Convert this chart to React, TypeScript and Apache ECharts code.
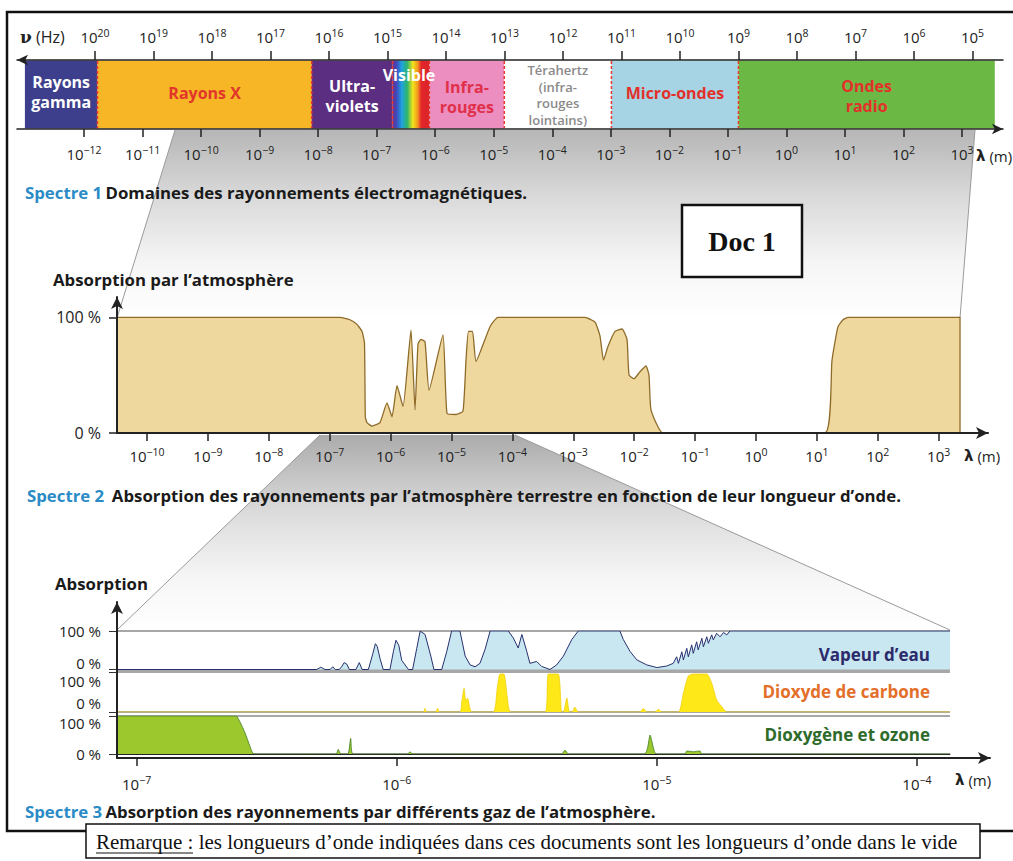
import React, { useEffect, useRef } from 'react';
import * as echarts from 'echarts';

// ---------- Spectre 1 : domaines (log10 of wavelength in m) ----------
const bandNames = ['Rayons\ngamma', 'Rayons X', 'Ultra-\nviolets', 'Visible', 'Infra-\nrouges', 'Térahertz\n(infra-\nrouges\nlointains)', 'Micro-ondes', 'Ondes\nradio'];
const bandStartLog = [-13.01, -11.77, -8.11, -6.73, -6.10, -4.82, -2.99, -0.82];
const bandEndLog = [-11.77, -8.11, -6.73, -6.10, -4.82, -2.99, -0.82, 3.56];
const lambdaTicks1 = [-12, -11, -10, -9, -8, -7, -6, -5, -4, -3, -2, -1, 0, 1, 2, 3];
const freqTicks = [20, 19, 18, 17, 16, 15, 14, 13, 12, 11, 10, 9, 8, 7, 6, 5];

// ---------- Spectre 2 : absorption par l'atmosphère ----------
const s2LogLambda = [-10.49, -6.83, -6.667, -6.552, -6.47, -6.429, -6.415, -6.388, -6.305, -6.174, -6.059, -5.977, -5.895, -5.796, -5.665, -5.599, -5.55, -5.501, -5.435, -5.369, -5.14, -5.074, -4.926, -4.811, -4.762, -4.721, -4.655, -4.598, -4.368, -4.236, -2.808, -2.644, -2.562, -2.504, -2.43, -2.315, -2.2, -2.118, -2.085, -2.003, -1.905, -1.806, -1.757, -1.724, -1.527, 1.133, 1.248, 1.346, 1.429, 1.511, 3.35, 3.35];
const s2Absorption = [100, 100, 98, 94, 88, 78, 14, 9, 6, 9, 26, 14, 41, 23, 89, 20, 77, 81, 79, 37, 85, 17, 16, 19, 63, 88, 88, 62, 92, 100, 100, 96, 84, 63, 75, 88, 90, 81, 50, 47, 53, 58, 50, 20, 0, 0, 63, 92, 98, 100, 100, 0];
const s2Ticks = [-10, -9, -8, -7, -6, -5, -4, -3, -2, -1, 0, 1, 2, 3];

// ---------- Spectre 3 : gaz ----------
const wvLogLambda = [-7.075, -6.308, -6.292, -6.276, -6.256, -6.246, -6.236, -6.221, -6.212, -6.202, -6.192, -6.182, -6.157, -6.144, -6.133, -6.109, -6.092, -6.082, -6.075, -6.064, -6.052, -6.026, -6.013, -6.003, -5.992, -5.981, -5.955, -5.939, -5.923, -5.91, -5.891, -5.869, -5.857, -5.827, -5.808, -5.789, -5.757, -5.737, -5.718, -5.699, -5.68, -5.661, -5.641, -5.571, -5.552, -5.533, -5.519, -5.5, -5.488, -5.462, -5.443, -5.411, -5.385, -5.359, -5.327, -5.302, -5.142, -5.129, -5.103, -5.077, -5.039, -5.0, -4.962, -4.937, -4.924, -4.917, -4.904, -4.898, -4.885, -4.879, -4.866, -4.86, -4.847, -4.841, -4.827, -4.821, -4.808, -4.802, -4.789, -4.783, -4.77, -4.757, -4.744, -4.731, -4.719, -3.873];
const wvAbsorption = [0, 0, 6, 0, 0, 7, 0, 0, 7, 18, 14, 0, 0, 18, 0, 0, 41, 67, 60, 28, 0, 0, 46, 76, 63, 24, 0, 0, 55, 100, 91, 35, 0, 0, 46, 100, 100, 35, 12, 7, 16, 51, 100, 100, 82, 56, 91, 47, 16, 21, 8, 0, 12, 35, 78, 100, 100, 78, 47, 25, 12, 5, 9, 16, 33, 16, 46, 25, 55, 33, 64, 42, 72, 51, 81, 59, 85, 68, 90, 77, 94, 85, 96, 90, 100, 100];

const co2LogLambda = [-7.075, -5.897, -5.891, -5.885, -5.85, -5.843, -5.836, -5.757, -5.75, -5.741, -5.735, -5.727, -5.72, -5.712, -5.629, -5.613, -5.603, -5.588, -5.575, -5.562, -5.43, -5.417, -5.379, -5.366, -5.359, -5.346, -5.336, -5.326, -5.315, -5.302, -5.065, -5.052, -5.039, -5.007, -4.994, -4.981, -4.917, -4.898, -4.879, -4.86, -4.808, -4.789, -4.77, -4.75, -4.731, -3.873];
const co2Absorption = [0, 0, 9, 0, 0, 9, 0, 0, 25, 59, 30, 34, 13, 0, 0, 63, 95, 95, 38, 0, 0, 95, 95, 0, 0, 35, 0, 0, 12, 0, 0, 9, 0, 0, 7, 0, 0, 47, 90, 95, 95, 72, 30, 13, 0, 0];

const o2LogLambda = [-7.075, -6.618, -6.603, -6.583, -6.564, -6.549, -6.233, -6.225, -6.215, -6.188, -6.177, -6.168, -5.958, -5.949, -5.94, -5.366, -5.353, -5.34, -5.047, -5.036, -5.026, -5.013, -5.003, -4.892, -4.885, -4.86, -4.834, -4.828, -3.873];
const o2Absorption = [100, 100, 85, 55, 20, 0, 0, 12, 0, 0, 41, 0, 0, 6, 0, 0, 10, 0, 0, 15, 50, 15, 0, 0, 8, 6, 8, 0, 0];
const s3Ticks = [-7, -6, -5, -4];

// ---------- styles ----------
const FONT = '"Open Sans", Lato, sans-serif';
const SERIF = '"Liberation Serif", "DejaVu Serif", serif';
const bandFills = ['#3d3f8c', '#f6b626', '#5b2e81', 'VIS', '#ec8fc0', '#ffffff', '#a6d4e4', '#6cb845'];
const bandText = ['#ffffff', '#e2352b', '#ffffff', '#ffffff', '#e0304a', '#8a8a8a', '#e2302a', '#e2302a'];
const bandTextY = [92, 93, 96, 75, 97, 95, 93, 96];

const sup = (v: number) => (v < 0 ? '−' + -v : String(v));
const powFmt = (v: number) => `{b|10}{s|${sup(Math.round(v))}}`;
const powRich = {
  b: { fontSize: 15, fontFamily: FONT, color: '#222' },
  s: { fontSize: 10.5, fontFamily: FONT, color: '#222', padding: [0, 0, 9, 0] },
};
const pts = (xs: number[], ys: number[]) => xs.map((x, i) => [x, ys[i]]);

export default function App() {
  const ref = useRef<HTMLDivElement>(null);
  useEffect(() => {
    if (!ref.current) return;
    const chart = echarts.init(ref.current, undefined, { renderer: 'svg' });
    const visGrad = new echarts.graphic.LinearGradient(0, 0, 1, 0, [
      { offset: 0, color: '#6b2c8f' },
      { offset: 0.12, color: '#3b4fc0' },
      { offset: 0.25, color: '#1ea3e0' },
      { offset: 0.4, color: '#2db56e' },
      { offset: 0.55, color: '#f1e41b' },
      { offset: 0.68, color: '#f39a1e' },
      { offset: 0.78, color: '#e3262a' },
      { offset: 1, color: '#d9232a' },
    ]);
    const axisTickStyle = { color: '#222', width: 1.5 };
    const hiddenY = (gi: number) => ({ gridIndex: gi, type: 'value', min: 0, max: 1, show: false });
    const panelY = (gi: number, topShift: number, botShift: number) => ({
      gridIndex: gi, type: 'value', min: 0, max: 100, interval: 100,
      axisLine: { show: false },
      axisTick: { show: true, length: 8, lineStyle: { color: '#333', width: 1 } },
      splitLine: { show: true, lineStyle: { color: '#8a8a8a', width: 1.5 } },
      axisLabel: {
        margin: 16,
        formatter: (v: number) => (v === 0 ? `{z|0 %}` : `{h|100 %}`),
        rich: {
          z: { fontSize: 15, lineHeight: 15, fontFamily: FONT, color: '#222', padding: [0, 0, botShift, 0] },
          h: { fontSize: 15, lineHeight: 15, fontFamily: FONT, color: '#222', padding: [topShift, 0, 0, 0] },
        },
      },
    });
    const panelX = (gi: number, showLine: boolean) => ({
      gridIndex: gi, type: 'value', min: -7.0754, max: -3.873,
      axisLine: { show: showLine, onZero: false, lineStyle: { color: '#222', width: 1 } },
      axisTick: { show: false }, axisLabel: { show: false }, splitLine: { show: false },
    });
    const lam = (x: number, y: number) => ({ type: 'text', z: 20, x, y, style: { text: '{v|λ} (m)', rich: { v: { fontWeight: 'bold', fontSize: 15, fontFamily: 'DejaVu Sans' } }, fontSize: 15, fontFamily: FONT, fill: '#222', verticalAlign: 'middle' } });
    const CAP = 16.8;
    const caption = (x: number, y: number, a: string, b: string) => ({
      type: 'text', z: 20, x, y,
      style: { text: `{a|${a}} {b|${b}}`, rich: { a: { fill: '#2a8bc6', fontSize: CAP, fontFamily: FONT, fontWeight: 'bold' }, b: { fill: '#1a1a1a', fontSize: CAP, fontFamily: FONT, fontWeight: 'bold' } }, verticalAlign: 'middle' },
    });

    const graphic: any[] = [
      // zoom shading between spectra
      {
        type: 'polygon', z: -10, silent: true,
        shape: { points: [[175, 130], [975, 130], [960, 318], [117, 318]] },
        style: { fill: new echarts.graphic.LinearGradient(0, 0, 0, 1, [
          { offset: 0, color: '#b6b6b6' }, { offset: 0.35, color: '#d9d9d9' }, { offset: 0.7, color: '#f5f5f5' }, { offset: 1, color: '#ffffff' }]) },
      },
      { type: 'line', z: -9, shape: { x1: 175, y1: 130, x2: 117, y2: 318 }, style: { stroke: '#9a9a9a', lineWidth: 1 } },
      { type: 'line', z: -9, shape: { x1: 975, y1: 130, x2: 960, y2: 318 }, style: { stroke: '#9a9a9a', lineWidth: 1 } },
      {
        type: 'polygon', z: -10, silent: true,
        shape: { points: [[320, 435], [515, 435], [950, 630], [117, 630]] },
        style: { fill: new echarts.graphic.LinearGradient(0, 0, 0, 1, [
          { offset: 0, color: '#ababab' }, { offset: 0.4, color: '#dcdcdc' }, { offset: 0.75, color: '#f7f7f7' }, { offset: 1, color: '#ffffff' }]) },
      },
      { type: 'line', z: -9, shape: { x1: 320, y1: 435, x2: 117, y2: 630 }, style: { stroke: '#9a9a9a', lineWidth: 1 } },
      { type: 'line', z: -9, shape: { x1: 515, y1: 435, x2: 950, y2: 630 }, style: { stroke: '#9a9a9a', lineWidth: 1 } },
      // outer frame
      { type: 'rect', z: 20, shape: { x: 7, y: 12, width: 1020, height: 819 }, style: { fill: 'none', stroke: '#111', lineWidth: 2.5 } },
      // axis names
      { type: 'text', z: 20, x: 20, y: 37, style: { text: '{v|ν} (Hz)', rich: { v: { fontWeight: 'bold', fontFamily: 'DejaVu Serif', fontSize: 17 } }, fontSize: 16, fontFamily: FONT, fill: '#222', verticalAlign: 'middle' } },
      lam(976, 156),
      lam(964, 456),
      lam(955, 780),
      // captions
      caption(25, 192, 'Spectre 1', 'Domaines des rayonnements électromagnétiques.'),
      { type: 'text', z: 20, x: 53, y: 279, style: { text: 'Absorption par l’atmosphère', fill: '#1a1a1a', fontSize: CAP, fontFamily: FONT, fontWeight: 'bold', verticalAlign: 'middle' } },
      caption(27, 495, 'Spectre 2', ' Absorption des rayonnements par l’atmosphère terrestre en fonction de leur longueur d’onde.'),
      { type: 'text', z: 20, x: 55, y: 583, style: { text: 'Absorption', fill: '#1a1a1a', fontSize: CAP, fontFamily: FONT, fontWeight: 'bold', verticalAlign: 'middle' } },
      caption(25, 811, 'Spectre 3', 'Absorption des rayonnements par différents gaz de l’atmosphère.'),
      // gas labels
      { type: 'text', z: 20, x: 930, y: 654, style: { text: 'Vapeur d’eau', fill: '#2c2a6a', fontSize: 17, fontFamily: FONT, fontWeight: 'bold', align: 'right', verticalAlign: 'middle' } },
      { type: 'text', z: 20, x: 930, y: 691, style: { text: 'Dioxyde de carbone', fill: '#e36f2a', fontSize: 17, fontFamily: FONT, fontWeight: 'bold', align: 'right', verticalAlign: 'middle' } },
      { type: 'text', z: 20, x: 930, y: 734, style: { text: 'Dioxygène et ozone', fill: '#2e6b2b', fontSize: 17, fontFamily: FONT, fontWeight: 'bold', align: 'right', verticalAlign: 'middle' } },
      // Doc 1 box
      { type: 'rect', z: 20, shape: { x: 682, y: 205, width: 120, height: 72 }, style: { fill: '#fff', stroke: '#111', lineWidth: 2.5 } },
      { type: 'text', z: 21, x: 742, y: 241, style: { text: 'Doc 1', fill: '#111', fontSize: 28, fontFamily: SERIF, fontWeight: 'bold', align: 'center', verticalAlign: 'middle' } },
      // Remarque box
      { type: 'rect', z: 30, shape: { x: 86, y: 824, width: 894, height: 34 }, style: { fill: '#fff', stroke: '#111', lineWidth: 1.5 } },
      { type: 'text', z: 31, x: 96, y: 842, style: { text: 'Remarque : les longueurs d’onde indiquées dans ces documents sont les longueurs d’onde dans le vide', fill: '#111', fontSize: 21, fontFamily: SERIF, verticalAlign: 'middle' } },
      { type: 'line', z: 31, shape: { x1: 96, y1: 853, x2: 193, y2: 853 }, style: { stroke: '#111', lineWidth: 1 } },
    ];

    const option: any = {
      animation: false,
      backgroundColor: '#ffffff',
      grid: [
        { left: 17, top: 60, width: 986, height: 69 },
        { left: 117, top: 297, width: 871, height: 136 },
        { left: 117, top: 631, width: 833, height: 38.5 },
        { left: 117, top: 672, width: 833, height: 40 },
        { left: 117, top: 716, width: 833, height: 38 },
        { left: 117, top: 602, width: 873, height: 156 },
      ],
      xAxis: [
        {
          gridIndex: 0, type: 'value', position: 'bottom', min: -13.145, max: 3.7, z: 10,
          axisLine: { onZero: false, symbol: ['none', 'arrow'], symbolSize: [8, 11], lineStyle: { color: '#222', width: 1.5 } },
          axisTick: { customValues: lambdaTicks1, length: 8, lineStyle: axisTickStyle },
          axisLabel: { customValues: lambdaTicks1, margin: 15, formatter: powFmt, rich: powRich },
          splitLine: { show: false },
        },
        {
          gridIndex: 0, type: 'value', position: 'top', inverse: true, min: 4.479, max: 21.333, z: 10,
          axisLine: { onZero: false, symbol: ['arrow', 'none'], symbolSize: [8, 11], lineStyle: { color: '#222', width: 1.5 } },
          axisTick: { customValues: freqTicks, length: 9, lineStyle: axisTickStyle },
          axisLabel: { customValues: freqTicks, margin: 13, formatter: powFmt, rich: powRich },
          splitLine: { show: false },
        },
        {
          gridIndex: 1, type: 'value', min: -10.4926, max: 3.8095, z: 10,
          axisLine: { onZero: false, symbol: ['none', 'arrow'], symbolSize: [9, 12], lineStyle: { color: '#222', width: 2 } },
          axisTick: { customValues: s2Ticks, length: 8, lineStyle: axisTickStyle },
          axisLabel: { customValues: s2Ticks, margin: 13, formatter: powFmt, rich: powRich },
          splitLine: { show: false },
        },
        panelX(2, false),
        panelX(3, false),
        panelX(4, true),
        {
          gridIndex: 5, type: 'value', min: -7.0754, max: -3.719, z: 10,
          axisLine: { onZero: false, symbol: ['none', 'arrow'], symbolSize: [9, 12], lineStyle: { color: '#222', width: 2 } },
          axisTick: { customValues: s3Ticks, length: 8, lineStyle: axisTickStyle },
          axisLabel: { customValues: s3Ticks, margin: 16, formatter: powFmt, rich: powRich },
          splitLine: { show: false },
        },
      ],
      yAxis: [
        hiddenY(0),
        {
          gridIndex: 1, type: 'value', min: 0, max: 117.7, z: 10,
          axisLine: { show: true, onZero: false, symbol: ['none', 'arrow'], symbolSize: [9, 12], lineStyle: { color: '#222', width: 2 } },
          axisTick: { show: true, customValues: [0, 100], length: 8, lineStyle: axisTickStyle },
          axisLabel: { customValues: [0, 100], margin: 16, fontSize: 16, fontFamily: FONT, color: '#222', formatter: (v: number) => `${v} %` },
          splitLine: { show: false },
        },
        panelY(2, 0, 13),
        panelY(3, 18, 18),
        panelY(4, 14, 0),
        {
          gridIndex: 5, type: 'value', min: 0, max: 1, z: 10,
          axisLine: { show: true, onZero: false, symbol: ['none', 'arrow'], symbolSize: [9, 12], lineStyle: { color: '#222', width: 2 } },
          axisTick: { show: false }, axisLabel: { show: false }, splitLine: { show: false },
        },
      ],
      series: [
        {
          type: 'custom', xAxisIndex: 0, yAxisIndex: 0, z: 2,
          data: bandStartLog.map((s, i) => [s, bandEndLog[i], i]),
          renderItem: (params: any, api: any) => {
            const i = api.value(2);
            const x0 = api.coord([api.value(0), 0])[0];
            const x1 = api.coord([api.value(1), 0])[0];
            const cs = params.coordSys;
            const children: any[] = [
              { type: 'rect', z2: 0, shape: { x: x0, y: cs.y + 0.5, width: x1 - x0, height: cs.height - 1 }, style: { fill: bandFills[i] === 'VIS' ? visGrad : bandFills[i] } },
            ];
            if (i > 0) children.push({ type: 'line', z2: 5, shape: { x1: x0, y1: cs.y + 1, x2: x0, y2: cs.y + cs.height - 1 }, style: { stroke: '#e8392c', lineWidth: 1.5, lineDash: [3, 2] } });
            const thz = i === 5;
            children.push({
              type: 'text', z2: 10,
              style: { text: bandNames[i], x: (x0 + x1) / 2 + (i === 3 ? -2 : 0), y: bandTextY[i], align: 'center', verticalAlign: 'middle', fill: bandText[i], fontSize: thz ? 13 : 16, fontWeight: thz ? 600 : 'bold', fontFamily: FONT, lineHeight: thz ? 16.5 : 20 },
            });
            return { type: 'group', children };
          },
        },
        {
          type: 'line', xAxisIndex: 2, yAxisIndex: 1, z: 2, showSymbol: false, smooth: 0.15,
          data: pts(s2LogLambda, s2Absorption),
          lineStyle: { color: '#8f6b2a', width: 1.3 },
          areaStyle: { color: '#eed89e', opacity: 1 },
        },
        {
          type: 'line', xAxisIndex: 3, yAxisIndex: 2, z: 2, showSymbol: false,
          data: pts(wvLogLambda, wvAbsorption),
          lineStyle: { color: '#27306e', width: 1 },
          areaStyle: { color: '#c8e7f1', opacity: 1 },
        },
        {
          type: 'line', xAxisIndex: 4, yAxisIndex: 3, z: 2, showSymbol: false, smooth: 0.2,
          data: pts(co2LogLambda, co2Absorption),
          lineStyle: { color: '#f0cf10', width: 0.8 },
          areaStyle: { color: '#ffe817', opacity: 1 },
        },
        {
          type: 'line', xAxisIndex: 5, yAxisIndex: 4, z: 2, showSymbol: false, smooth: 0.2,
          data: pts(o2LogLambda, o2Absorption),
          lineStyle: { color: '#3f7d1f', width: 0.8 },
          areaStyle: { color: '#9cc82e', opacity: 1 },
        },
      ],
      graphic,
    };
    chart.setOption(option);
    return () => chart.dispose();
  }, []);
  return <div ref={ref} style={{ position: 'fixed', left: 0, top: 0, width: 1013, height: 861, background: '#fff' }} />;
}
